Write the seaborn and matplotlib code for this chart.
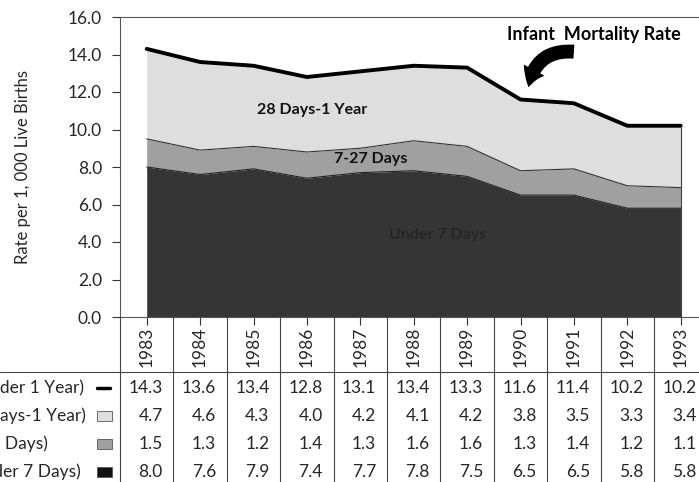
import pandas as pd
import seaborn as sns
import matplotlib.pyplot as plt
from matplotlib import transforms
from matplotlib.lines import Line2D
from matplotlib.patches import Rectangle, FancyArrowPatch

# data
years = [1983, 1984, 1985, 1986, 1987, 1988, 1989, 1990, 1991, 1992, 1993]
under_1_year = [14.3, 13.6, 13.4, 12.8, 13.1, 13.4, 13.3, 11.6, 11.4, 10.2, 10.2]
days28_1_year = [4.7, 4.6, 4.3, 4.0, 4.2, 4.1, 4.2, 3.8, 3.5, 3.3, 3.4]
days7_27 = [1.5, 1.3, 1.2, 1.4, 1.3, 1.6, 1.6, 1.3, 1.4, 1.2, 1.1]
under_7_days = [8.0, 7.6, 7.9, 7.4, 7.7, 7.8, 7.5, 6.5, 6.5, 5.8, 5.8]

row_labels = ["Infant Mortality (Under 1 Year)", "Postneonatal (28 Days-1 Year)",
              "(7-27 Days)", "Neonatal (Under 7 Days)"]
row_label_ends = [84, 86, 48, 81]   # px where the clipped labels end
yticks = [0, 2, 4, 6, 8, 10, 12, 14, 16]

df = pd.DataFrame({"Year": years, "Under 1 Year": under_1_year,
                   "28 Days-1 Year": days28_1_year, "7-27 Days": days7_27,
                   "Under 7 Days": under_7_days})
df["low"] = df["Under 7 Days"]
df["mid"] = df["Under 7 Days"] + df["7-27 Days"]

sns.set_theme(style="white")
plt.rcParams["font.family"] = ["Lato", "DejaVu Sans"]

c_dark, c_mid, c_light = "#353535", "#a0a0a0", "#dedede"

W, H = 699, 482
fig = plt.figure(figsize=(W / 100, H / 100), dpi=100)
ax = fig.add_axes([120 / W, 165 / H, 587.4 / W, 300 / H])

ax.fill_between(df["Year"], 0, df["low"], color=c_dark, lw=0)
ax.fill_between(df["Year"], df["low"], df["mid"], color=c_mid, lw=0)
ax.fill_between(df["Year"], df["mid"], df["Under 1 Year"], color=c_light, lw=0)
sns.lineplot(data=df, x="Year", y="low", color="#222222", lw=0.8, ax=ax)
sns.lineplot(data=df, x="Year", y="mid", color="#333333", lw=0.8, ax=ax)
sns.lineplot(data=df, x="Year", y="Under 1 Year", color="black", lw=2.8, ax=ax)
ax.vlines(years[-1], 0, under_1_year[-1], color="#444444", lw=0.8)

ax.set_xlim(1982.5, 1993.5)
ax.set_ylim(0, 16)
ax.set_yticks(yticks)
ax.set_yticklabels([f"{v:.1f}" for v in yticks], fontsize=12.5)
ax.set_xticks(years)
ax.set_xticklabels([])
ax.tick_params(axis="both", direction="out", length=6, width=0.8, color="#333333",
               bottom=True, left=True, pad=7)
ax.set_xlabel("")
ax.set_ylabel("Rate per 1, 000 Live Births", fontsize=12)
ax.yaxis.set_label_coords(-0.152, 0.5)
for side in ["left", "top", "bottom"]:
    ax.spines[side].set_color("#555555")
    ax.spines[side].set_linewidth(0.8)
ax.spines["right"].set_visible(False)

# layer labels
ax.text(1986.1, 11.05, "28 Days-1 Year", fontsize=11.5, fontweight="bold",
        ha="center", va="center", color="#111111")
ax.text(1987.2, 8.4, "7-27 Days", fontsize=11.5, fontweight="bold",
        ha="center", va="center", color="#111111")
ax.text(1988.45, 4.35, "Under 7 Days", fontsize=11.5, fontweight="bold",
        ha="center", va="center", color="#262626")
ax.text(1991.37, 15.05, "Infant  Mortality Rate", fontsize=13, fontweight="bold",
        ha="center", va="center", color="black")
arrow = FancyArrowPatch(posA=(1991.0, 14.15), posB=(1990.15, 12.25),
                        arrowstyle="simple,head_width=17,head_length=13,tail_width=10",
                        connectionstyle="arc3,rad=0.45", mutation_scale=1,
                        color="black", lw=0, shrinkA=0, shrinkB=0)
ax.add_patch(arrow)

# data table under the chart
trans = transforms.blended_transform_factory(ax.transData, fig.transFigure)
fy = lambda p: 1 - p / H
fx = lambda p: p / W

for b in [y - 0.5 for y in years] + [years[-1] + 0.5]:
    fig.add_artist(Line2D([b, b], [fy(317), 0], transform=trans, color="#444444", lw=0.8))
fig.add_artist(Line2D([0, 1], [fy(372), fy(372)], transform=fig.transFigure,
                      color="#444444", lw=0.8))

for yr in years:
    fig.text(yr, fy(347), str(yr), transform=trans, rotation=90, ha="center",
             va="center", fontsize=12.5)

rows = [under_1_year, days28_1_year, days7_27, under_7_days]
row_y = [388, 416, 444, 472]
for vals, py in zip(rows, row_y):
    for yr, v in zip(years, vals):
        fig.text(yr + 0.30, fy(py), f"{v:.1f}", transform=trans, ha="right",
                 va="center", fontsize=12.5)

for lab, px, py in zip(row_labels, row_label_ends, row_y):
    fig.text(fx(px), fy(py), lab, ha="right", va="center", fontsize=12.5)

# legend keys
fig.add_artist(Line2D([fx(97), fx(110)], [fy(388), fy(388)], color="black", lw=2.5))
for col, py in zip([c_light, c_mid, "#111111"], row_y[1:]):
    fig.add_artist(Rectangle((fx(97), fy(py + 5)), 15 / W, 10 / H,
                             transform=fig.transFigure, facecolor=col,
                             edgecolor="#555555", lw=0.6))

fig.savefig("out.png", dpi=100)
